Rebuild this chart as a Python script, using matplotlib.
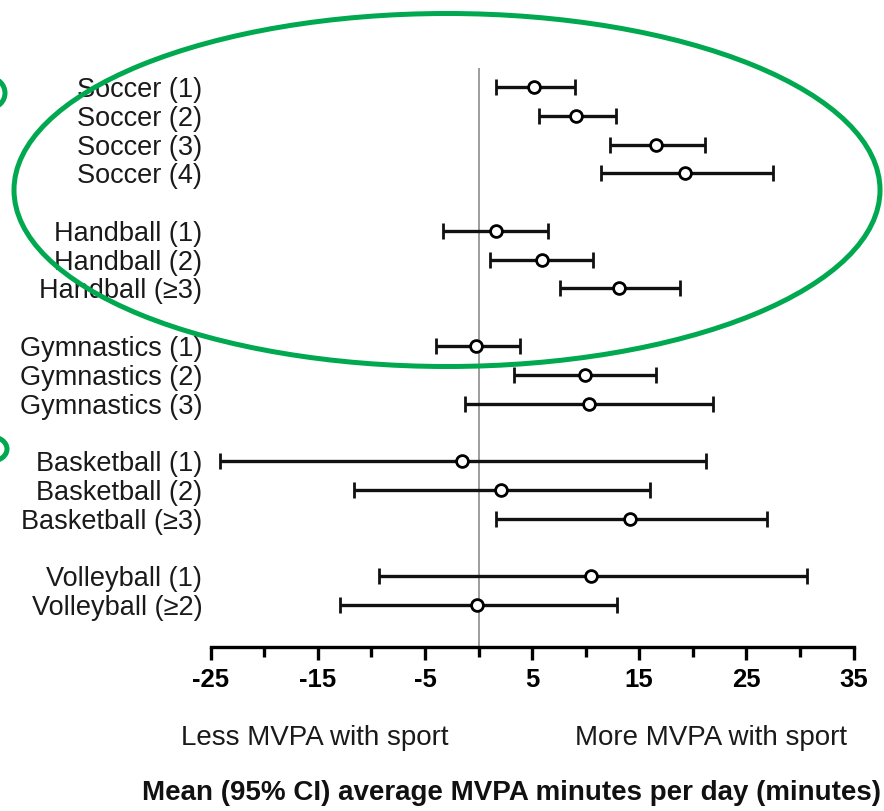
import numpy as np
import matplotlib.pyplot as plt
from matplotlib.patches import Ellipse

plt.rcParams['font.family'] = ['Liberation Sans', 'DejaVu Sans']

# Forest plot data (mean and 95% CI of MVPA minutes per day)
labels = ['Soccer (1)', 'Soccer (2)', 'Soccer (3)', 'Soccer (4)',
          'Handball (1)', 'Handball (2)', 'Handball (\u22653)',
          'Gymnastics (1)', 'Gymnastics (2)', 'Gymnastics (3)',
          'Basketball (1)', 'Basketball (2)', 'Basketball (\u22653)',
          'Volleyball (1)', 'Volleyball (\u22652)']
means = np.array([5.2, 9.1, 16.6, 19.3,
                  1.6, 5.9, 13.1,
                  -0.2, 9.9, 10.3,
                  -1.5, 2.1, 14.1,
                  10.5, -0.1])
lower = np.array([1.6, 5.6, 12.3, 11.4,
                  -3.3, 1.1, 7.6,
                  -4.0, 3.3, -1.3,
                  -24.1, -11.6, 1.6,
                  -9.3, -12.9])
upper = np.array([9.0, 12.8, 21.1, 27.5,
                  6.5, 10.7, 18.8,
                  3.9, 16.6, 21.9,
                  21.2, 16.0, 26.9,
                  30.7, 12.9])
group_sizes = [4, 3, 3, 3, 2]
xticks = [-25, -15, -5, 5, 15, 25, 35]
xtick_labels = ['-25', '-15', '-5', '5', '15', '25', '35']

# row positions with one blank row between sport groups
positions = []
row = 0
for size in group_sizes:
    for i in range(size):
        positions.append(row)
        row += 1
    row += 1

fig = plt.figure(figsize=(8.84, 8.11), dpi=100)
ax = fig.add_axes([0.2383, 0.2022, 0.7272, 0.714])

ax.axvline(0, color='#8c8c8c', lw=1.2, zorder=1)
ax.errorbar(means, positions, xerr=[means - lower, upper - means],
            fmt='o', color='black', ecolor='#111111', elinewidth=2.4,
            capsize=5.5, capthick=2.4, markersize=8.5,
            markerfacecolor='white', markeredgecolor='black',
            markeredgewidth=2, zorder=3)

ax.set_xlim(-25, 35)
ax.set_ylim(19.46, -0.66)
for side in ['top', 'right', 'left']:
    ax.spines[side].set_visible(False)
ax.spines['bottom'].set_linewidth(2.4)

ax.set_xticks(xticks)
ax.set_xticklabels(xtick_labels, fontweight='bold')
ax.set_xticks(range(-20, 31, 10), minor=True)
ax.tick_params(axis='x', which='major', length=9, width=2.4, labelsize=18.5, pad=6)
ax.tick_params(axis='x', which='minor', length=7, width=2.4)

ax.set_yticks(positions)
ax.set_yticklabels(labels, fontsize=19.5, color='#1a1a1a')
ax.tick_params(axis='y', length=0, pad=6)

fig.text(315 / 884, 1 - 738 / 811, 'Less MVPA with sport', ha='center', va='center',
         fontsize=20, color='#1a1a1a')
fig.text(711 / 884, 1 - 738 / 811, 'More MVPA with sport', ha='center', va='center',
         fontsize=20, color='#1a1a1a')
fig.text(512 / 884, 1 - 793 / 811, 'Mean (95% CI) average MVPA minutes per day (minutes)',
         ha='center', va='center', fontsize=20, fontweight='bold', color='#111111')

# green highlight annotations
green = '#00a850'
fig.patches.append(Ellipse((447 / 884, 1 - 190 / 811), 866 / 884, 353 / 811,
                           transform=fig.transFigure, fill=False, edgecolor=green,
                           lw=3.6, zorder=5))
fig.patches.append(Ellipse((-10 / 884, 1 - 93 / 811), 30 / 884, 30 / 811,
                           transform=fig.transFigure, fill=False, edgecolor=green,
                           lw=3.6, zorder=5))
fig.patches.append(Ellipse((-8 / 884, 1 - 449 / 811), 30 / 884, 24 / 811,
                           transform=fig.transFigure, fill=False, edgecolor=green,
                           lw=3.6, zorder=5))

fig.savefig('out.png', dpi=100)
